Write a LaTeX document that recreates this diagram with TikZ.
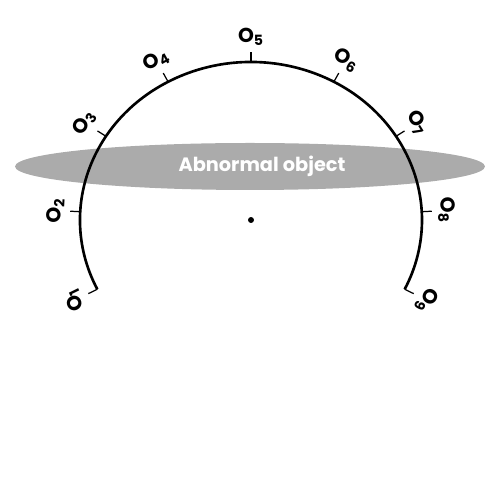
\documentclass[tikz,border=0pt]{standalone}
\usepackage{fontspec}
\setsansfont{Poppins}

\begin{document}
\begin{tikzpicture}[
    % Estilo del arco de sensores
    ring/.style={line width=1.5pt, black},
    tick/.style={line width=0.7pt, black},
    sensor/.style={font=\sffamily\bfseries\fontsize{11.5}{13}\selectfont, inner sep=0pt},
    % Estilo del objeto anómalo
    objfill/.style={fill=black!33},
    objtext/.style={text=white, font=\sffamily\bfseries\fontsize{11}{13}\selectfont}
]
    \useasboundingbox (0,0) rectangle (9.72,9.64);

    % Objeto anómalo
    \fill[objfill] (5.0,6.31) ellipse (4.7 and 0.47);
    \node[objtext] (obj) at (5.24,6.32) {Abnormal object};

    % Arco y sensores
    \begin{scope}[shift={(5.02,5.24)}]
        \node[circle, fill=black, inner sep=1.2pt] (ctr) at (0,0) {};
        \draw[ring] (206:3.42 and 3.16) arc[start angle=206, end angle=-26, x radius=3.42, y radius=3.16];
        \foreach \i/\a in {1/206, 2/177, 3/148, 4/119, 5/90, 6/61, 7/32, 8/3, 9/-26} {
            \coordinate (p\i) at (\a:3.42 and 3.16);
            \coordinate (q\i) at (\a:3.62 and 3.36);
            \draw[tick] (p\i) -- (q\i);
            \node[sensor, rotate=\a-90] (o\i) at (\a:3.92 and 3.66) {O\textsubscript{\i}};
        }
    \end{scope}
\end{tikzpicture}
\end{document}
